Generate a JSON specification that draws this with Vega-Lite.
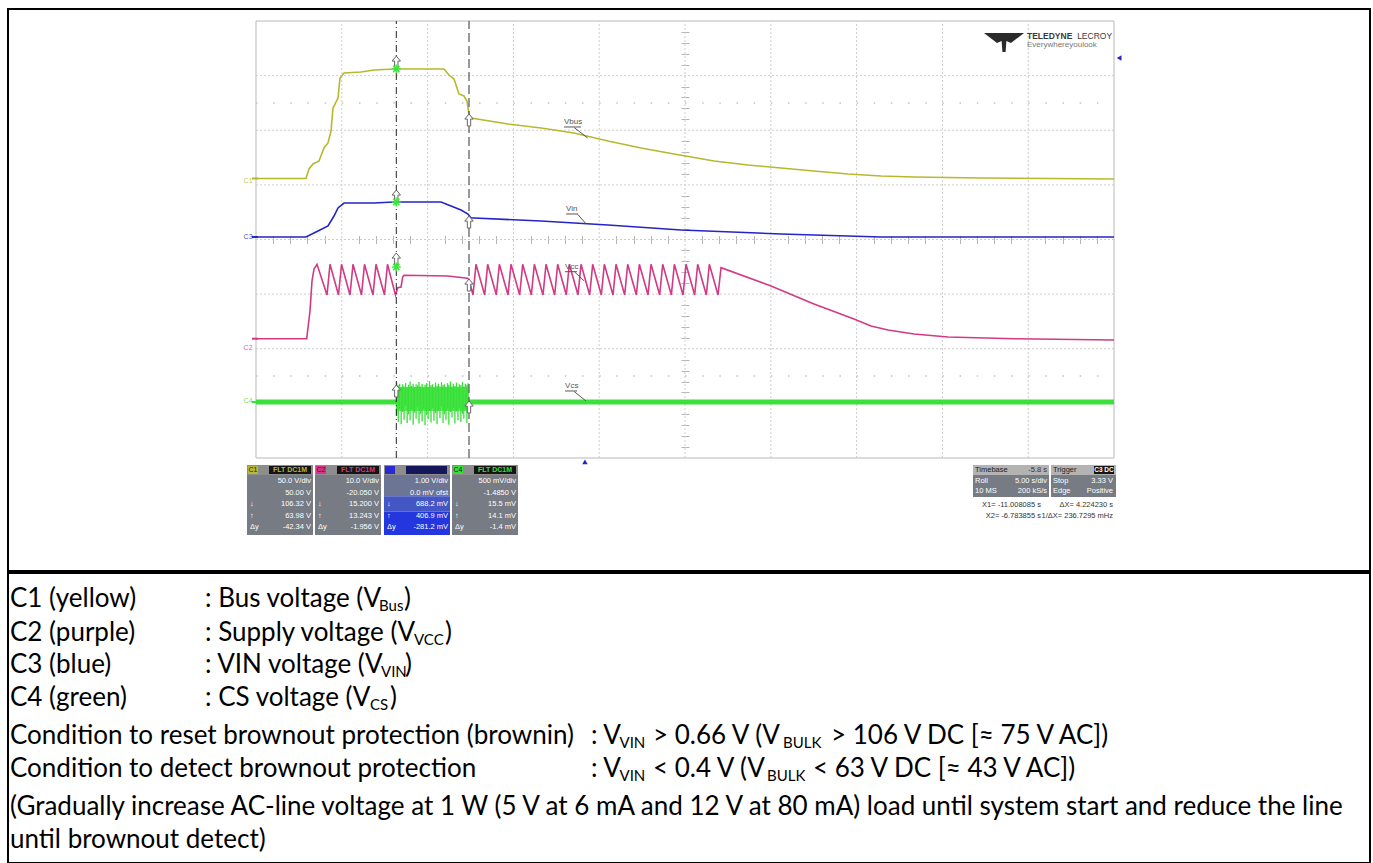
{
"$schema":"https://vega.github.io/schema/vega-lite/v6.json",
"background":"white",
"padding":{"left":7,"top":8,"right":4,"bottom":2},
"spacing":0,
"config":{"view":{"stroke":null},"font":"Liberation Sans","axis":{"labels":false,"domain":false,"grid":false,"title":null}},
"datasets":{
"frame":[{"t":0,"t2":50,"v":0,"v2":8}],
"grid":[{"t":5,"t2":5,"v":0,"v2":8},{"t":10,"t2":10,"v":0,"v2":8},{"t":15,"t2":15,"v":0,"v2":8},{"t":20,"t2":20,"v":0,"v2":8},{"t":25,"t2":25,"v":0,"v2":8},{"t":30,"t2":30,"v":0,"v2":8},{"t":35,"t2":35,"v":0,"v2":8},{"t":40,"t2":40,"v":0,"v2":8},{"t":45,"t2":45,"v":0,"v2":8},
{"t":0,"t2":50,"v":1,"v2":1},{"t":0,"t2":50,"v":2,"v2":2},{"t":0,"t2":50,"v":3,"v2":3},{"t":0,"t2":50,"v":4,"v2":4},{"t":0,"t2":50,"v":5,"v2":5},{"t":0,"t2":50,"v":6,"v2":6},{"t":0,"t2":50,"v":7,"v2":7}],
"dots":[{"t":0,"t2":50,"v":1.5,"v2":1.5},{"t":0,"t2":50,"v":6.5,"v2":6.5}],
"traces":[
{"ch":"C1","t":0,"v":5.117},{"ch":"C1","t":2.914,"v":5.117},{"ch":"C1","t":3.089,"v":5.291},{"ch":"C1","t":3.322,"v":5.382},{"ch":"C1","t":3.671,"v":5.437},{"ch":"C1","t":3.963,"v":5.675},{"ch":"C1","t":4.196,"v":5.767},{"ch":"C1","t":4.371,"v":5.986},{"ch":"C1","t":4.487,"v":6.407},{"ch":"C1","t":4.779,"v":6.59},{"ch":"C1","t":4.895,"v":6.957},{"ch":"C1","t":5.128,"v":7.048},{"ch":"C1","t":6.119,"v":7.066},{"ch":"C1","t":6.876,"v":7.103},{"ch":"C1","t":8.042,"v":7.121},{"ch":"C1","t":10.956,"v":7.121},{"ch":"C1","t":11.247,"v":7.011},{"ch":"C1","t":11.538,"v":6.938},{"ch":"C1","t":11.83,"v":6.664},{"ch":"C1","t":12.121,"v":6.627},{"ch":"C1","t":12.296,"v":6.535},{"ch":"C1","t":12.413,"v":6.297},{"ch":"C1","t":12.529,"v":6.224},{"ch":"C1","t":14.685,"v":6.114},{"ch":"C1","t":16.608,"v":6.041},{"ch":"C1","t":18.531,"v":5.95},{"ch":"C1","t":20.513,"v":5.803},{"ch":"C1","t":22.436,"v":5.675},{"ch":"C1","t":24.359,"v":5.565},{"ch":"C1","t":26.69,"v":5.437},{"ch":"C1","t":28.671,"v":5.364},{"ch":"C1","t":30.594,"v":5.309},{"ch":"C1","t":32.517,"v":5.254},{"ch":"C1","t":34.499,"v":5.199},{"ch":"C1","t":36.422,"v":5.163},{"ch":"C1","t":38.345,"v":5.144},{"ch":"C1","t":42.249,"v":5.126},{"ch":"C1","t":46.329,"v":5.117},{"ch":"C1","t":50,"v":5.108},
{"ch":"C3","t":0,"v":4.046},{"ch":"C3","t":2.914,"v":4.046},{"ch":"C3","t":3.613,"v":4.156},{"ch":"C3","t":4.196,"v":4.247},{"ch":"C3","t":4.545,"v":4.43},{"ch":"C3","t":4.779,"v":4.577},{"ch":"C3","t":5.128,"v":4.668},{"ch":"C3","t":6.876,"v":4.668},{"ch":"C3","t":8.042,"v":4.687},{"ch":"C3","t":10.781,"v":4.687},{"ch":"C3","t":11.364,"v":4.613},{"ch":"C3","t":11.946,"v":4.54},{"ch":"C3","t":12.354,"v":4.467},{"ch":"C3","t":12.529,"v":4.394},{"ch":"C3","t":12.704,"v":4.394},{"ch":"C3","t":16.608,"v":4.339},{"ch":"C3","t":20.513,"v":4.265},{"ch":"C3","t":24.767,"v":4.174},{"ch":"C3","t":30.594,"v":4.101},{"ch":"C3","t":36.422,"v":4.046},{"ch":"C3","t":50,"v":4.046},
{"ch":"C2","t":0,"v":2.184},{"ch":"C2","t":2.954,"v":2.184},{"ch":"C2","t":3.147,"v":2.691},{"ch":"C2","t":3.263,"v":3.24},{"ch":"C2","t":3.38,"v":3.46},{"ch":"C2","t":3.555,"v":3.546},{"ch":"C2","t":4.138,"v":2.984},{"ch":"C2","t":4.312,"v":3.546},{"ch":"C2","t":4.808,"v":2.984},{"ch":"C2","t":4.983,"v":3.546},{"ch":"C2","t":5.478,"v":2.984},{"ch":"C2","t":5.653,"v":3.546},{"ch":"C2","t":6.148,"v":2.984},{"ch":"C2","t":6.323,"v":3.546},{"ch":"C2","t":6.818,"v":2.984},{"ch":"C2","t":6.993,"v":3.546},{"ch":"C2","t":7.488,"v":2.984},{"ch":"C2","t":7.663,"v":3.546},{"ch":"C2","t":8.129,"v":2.984},{"ch":"C2","t":8.258,"v":3.118},{"ch":"C2","t":8.45,"v":3.13},{"ch":"C2","t":8.549,"v":3.314},{"ch":"C2","t":8.625,"v":3.345},{"ch":"C2","t":11.171,"v":3.332},{"ch":"C2","t":12.337,"v":3.29},{"ch":"C2","t":12.413,"v":3.27},{"ch":"C2","t":12.646,"v":2.984},
{"ch":"C2","t":12.821,"v":3.546},{"ch":"C2","t":13.326,"v":2.984},{"ch":"C2","t":13.501,"v":3.546},{"ch":"C2","t":14.006,"v":2.984},{"ch":"C2","t":14.181,"v":3.546},{"ch":"C2","t":14.686,"v":2.984},{"ch":"C2","t":14.861,"v":3.546},{"ch":"C2","t":15.366,"v":2.984},{"ch":"C2","t":15.541,"v":3.546},{"ch":"C2","t":16.046,"v":2.984},{"ch":"C2","t":16.221,"v":3.546},{"ch":"C2","t":16.726,"v":2.984},{"ch":"C2","t":16.901,"v":3.546},{"ch":"C2","t":17.406,"v":2.984},{"ch":"C2","t":17.58,"v":3.546},{"ch":"C2","t":18.085,"v":2.984},{"ch":"C2","t":18.26,"v":3.546},{"ch":"C2","t":18.765,"v":2.984},{"ch":"C2","t":18.94,"v":3.546},{"ch":"C2","t":19.445,"v":2.984},{"ch":"C2","t":19.62,"v":3.546},{"ch":"C2","t":20.125,"v":2.984},{"ch":"C2","t":20.3,"v":3.546},{"ch":"C2","t":20.805,"v":2.984},{"ch":"C2","t":20.98,"v":3.546},{"ch":"C2","t":21.485,"v":2.984},{"ch":"C2","t":21.66,"v":3.546},{"ch":"C2","t":22.165,"v":2.984},{"ch":"C2","t":22.34,"v":3.546},{"ch":"C2","t":22.845,"v":2.984},{"ch":"C2","t":23.02,"v":3.546},{"ch":"C2","t":23.525,"v":2.984},{"ch":"C2","t":23.7,"v":3.546},{"ch":"C2","t":24.205,"v":2.984},{"ch":"C2","t":24.38,"v":3.546},{"ch":"C2","t":24.885,"v":2.984},{"ch":"C2","t":25.059,"v":3.546},{"ch":"C2","t":25.564,"v":2.984},{"ch":"C2","t":25.739,"v":3.546},{"ch":"C2","t":26.244,"v":2.984},{"ch":"C2","t":26.419,"v":3.546},{"ch":"C2","t":26.924,"v":2.984},{"ch":"C2","t":27.099,"v":3.484},
{"ch":"C2","t":30.011,"v":3.149},{"ch":"C2","t":32.517,"v":2.819},{"ch":"C2","t":34.848,"v":2.545},{"ch":"C2","t":35.839,"v":2.416},{"ch":"C2","t":36.83,"v":2.343},{"ch":"C2","t":38.345,"v":2.27},{"ch":"C2","t":40.326,"v":2.215},{"ch":"C2","t":44.172,"v":2.184},{"ch":"C2","t":50,"v":2.16}],
"cs":[{"seg":"a","t":0,"v":1.025},{"seg":"a","t":8.18,"v":1.025},{"seg":"b","t":12.41,"v":1.025},{"seg":"b","t":50,"v":1.025}],
"burst":[{"t":8.19,"t2":12.37,"v":0.86,"v2":1.3}],
"spikes":[{"t":8.2,"v":0.78,"v2":1.38},{"t":8.29,"v":0.66,"v2":1.33},{"t":8.37,"v":0.9,"v2":1.36},{"t":8.46,"v":0.62,"v2":1.3},{"t":8.55,"v":0.84,"v2":1.35},{"t":8.63,"v":0.7,"v2":1.31},{"t":8.72,"v":0.95,"v2":1.37},{"t":8.81,"v":0.64,"v2":1.29},{"t":8.89,"v":0.8,"v2":1.34},{"t":8.98,"v":0.69,"v2":1.4},{"t":9.07,"v":0.88,"v2":1.32},{"t":9.16,"v":0.61,"v2":1.36},{"t":9.24,"v":0.83,"v2":1.3},{"t":9.33,"v":0.72,"v2":1.35},{"t":9.42,"v":0.93,"v2":1.33},{"t":9.5,"v":0.63,"v2":1.39},{"t":9.59,"v":0.81,"v2":1.31},{"t":9.68,"v":0.67,"v2":1.36},{"t":9.76,"v":0.9,"v2":1.28},{"t":9.85,"v":0.6,"v2":1.34},{"t":9.94,"v":0.79,"v2":1.37},{"t":10.03,"v":0.71,"v2":1.3},{"t":10.11,"v":0.86,"v2":1.41},{"t":10.2,"v":0.65,"v2":1.33},{"t":10.29,"v":0.92,"v2":1.35},{"t":10.37,"v":0.68,"v2":1.29},{"t":10.46,"v":0.82,"v2":1.38},{"t":10.55,"v":0.62,"v2":1.32},{"t":10.63,"v":0.87,"v2":1.36},{"t":10.72,"v":0.73,"v2":1.31},{"t":10.81,"v":0.94,"v2":1.39},{"t":10.9,"v":0.64,"v2":1.33},{"t":10.98,"v":0.8,"v2":1.35},{"t":11.07,"v":0.7,"v2":1.3},{"t":11.16,"v":0.89,"v2":1.37},{"t":11.24,"v":0.61,"v2":1.34},{"t":11.33,"v":0.84,"v2":1.4},{"t":11.42,"v":0.74,"v2":1.31},{"t":11.5,"v":0.91,"v2":1.36},{"t":11.59,"v":0.63,"v2":1.32},{"t":11.68,"v":0.85,"v2":1.38},{"t":11.77,"v":0.69,"v2":1.3},{"t":11.85,"v":0.92,"v2":1.35},{"t":11.94,"v":0.66,"v2":1.33},{"t":12.03,"v":0.81,"v2":1.39},{"t":12.11,"v":0.72,"v2":1.31},{"t":12.2,"v":0.88,"v2":1.36},{"t":12.29,"v":0.64,"v2":1.34},{"t":12.36,"v":0.86,"v2":1.37}],
"cur1":[{"t":8.176,"v":0,"v2":8}],
"cur2":[{"t":12.413,"v":0,"v2":8}],
"arrows":[{"t":8.176,"v":7.25},{"t":8.176,"v":4.797},{"t":8.176,"v":3.643},{"t":8.176,"v":1.227},{"t":12.413,"v":6.188},{"t":12.413,"v":4.32},{"t":12.413,"v":3.167},{"t":12.413,"v":0.934}],
"stars":[{"t":8.176,"v":7.121},{"t":8.176,"v":4.687},{"t":8.176,"v":3.497}],
"labels":[{"t":17.95,"v":6.08,"txt":"Vbus"},{"t":18.07,"v":4.49,"txt":"Vin"},{"t":18.01,"v":3.43,"txt":"Vcc"},{"t":18.01,"v":1.245,"txt":"Vcs"}],
"leaders":[{"t":17.95,"t2":18.94,"v":6.06,"v2":6.06},{"t":18.55,"t2":19.33,"v":6.047,"v2":5.858},{"t":18.07,"t2":18.77,"v":4.467,"v2":4.467},{"t":18.745,"t2":19.23,"v":4.461,"v2":4.289},{"t":18.01,"t2":18.71,"v":3.411,"v2":3.411},{"t":18.55,"t2":19.13,"v":3.411,"v2":3.24},{"t":18.01,"t2":18.71,"v":1.227,"v2":1.227},{"t":18.55,"t2":19.23,"v":1.214,"v2":1.043}],
"chmarks":[{"t":-0.2,"v":5.07,"txt":"C1","ch":"C1"},{"t":-0.2,"v":4.046,"txt":"C3","ch":"C3"},{"t":-0.2,"v":2.014,"txt":"C2","ch":"C2"},{"t":-0.2,"v":1.043,"txt":"C4","ch":"C4"}],
"chticks":[{"t":-0.233,"t2":0.117,"v":5.117,"v2":5.117,"ch":"C1"},{"t":-0.233,"t2":0.117,"v":4.046,"v2":4.046,"ch":"C3"},{"t":-0.233,"t2":0.117,"v":2.184,"v2":2.184,"ch":"C2"},{"t":-0.233,"t2":0.117,"v":1.025,"v2":1.025,"ch":"C4"}],
"triR":[{"t":50.3,"v":7.323}],
"triB":[{"t":19.17,"v":-0.073}],
"logo":[{"t":43.59,"v":7.616}],
"logoA":[{"t":44.93,"v":7.725,"txt":"TELEDYNE"}],
"logoB":[{"t":49.89,"v":7.725,"txt":"LECROY"}],
"logoC":[{"t":44.93,"v":7.56,"txt":"Everywhereyoulook"}],
"boxes":[
{"t":-0.524,"t2":3.322,"v":-0.128,"v2":-0.311,"part":"hdr"},{"t":3.438,"t2":7.284,"v":-0.128,"v2":-0.311,"part":"hdr"},{"t":7.459,"t2":11.305,"v":-0.128,"v2":-0.311,"part":"hdr"},{"t":11.422,"t2":15.268,"v":-0.128,"v2":-0.311,"part":"hdr"},
{"t":-0.524,"t2":3.322,"v":-0.311,"v2":-1.41,"part":"body"},{"t":3.438,"t2":7.284,"v":-0.311,"v2":-1.41,"part":"body"},{"t":11.422,"t2":15.268,"v":-0.311,"v2":-1.41,"part":"body"},
{"t":7.459,"t2":11.305,"v":-0.311,"v2":-0.7,"part":"c3a"},{"t":7.459,"t2":11.305,"v":-0.7,"v2":-0.98,"part":"c3b"},{"t":7.459,"t2":11.305,"v":-0.98,"v2":-1.41,"part":"c3c"},
{"t":-0.466,"t2":0.117,"v":-0.146,"v2":-0.293,"part":"tag1"},{"t":3.497,"t2":4.079,"v":-0.146,"v2":-0.293,"part":"tag2"},{"t":7.517,"t2":8.1,"v":-0.146,"v2":-0.293,"part":"tag3"},{"t":11.48,"t2":12.063,"v":-0.146,"v2":-0.293,"part":"tag4"},
{"t":0.758,"t2":3.205,"v":-0.146,"v2":-0.293,"part":"badge"},{"t":4.72,"t2":7.168,"v":-0.146,"v2":-0.293,"part":"badge"},{"t":8.741,"t2":11.131,"v":-0.146,"v2":-0.293,"part":"badge3"},{"t":12.704,"t2":15.152,"v":-0.146,"v2":-0.293,"part":"badge"},
{"t":41.783,"t2":46.212,"v":-0.128,"v2":-0.311,"part":"tbh"},{"t":46.329,"t2":50.117,"v":-0.128,"v2":-0.311,"part":"tbh"},{"t":41.783,"t2":46.212,"v":-0.311,"v2":-0.714,"part":"body"},{"t":46.329,"t2":50.117,"v":-0.311,"v2":-0.714,"part":"body"},{"t":48.834,"t2":50.0,"v":-0.146,"v2":-0.293,"part":"badge"}],
"bvR":[
{"t":3.205,"v":-0.421,"txt":"50.0 V/div"},{"t":3.205,"v":-0.632,"txt":"50.00 V"},{"t":3.205,"v":-0.842,"txt":"106.32 V"},{"t":3.205,"v":-1.053,"txt":"63.98 V"},{"t":3.205,"v":-1.263,"txt":"-42.34 V"},
{"t":7.168,"v":-0.421,"txt":"10.0 V/div"},{"t":7.168,"v":-0.632,"txt":"-20.050 V"},{"t":7.168,"v":-0.842,"txt":"15.200 V"},{"t":7.168,"v":-1.053,"txt":"13.243 V"},{"t":7.168,"v":-1.263,"txt":"-1.956 V"},
{"t":11.189,"v":-0.421,"txt":"1.00 V/div"},{"t":11.189,"v":-0.632,"txt":"0.0 mV ofst"},{"t":11.189,"v":-0.842,"txt":"688.2 mV"},{"t":11.189,"v":-1.053,"txt":"406.9 mV"},{"t":11.189,"v":-1.263,"txt":"-281.2 mV"},
{"t":15.152,"v":-0.421,"txt":"500 mV/div"},{"t":15.152,"v":-0.632,"txt":"-1.4850 V"},{"t":15.152,"v":-0.842,"txt":"15.5 mV"},{"t":15.152,"v":-1.053,"txt":"14.1 mV"},{"t":15.152,"v":-1.263,"txt":"-1.4 mV"},
{"t":46.095,"v":-0.412,"txt":"5.00 s/div"},{"t":46.095,"v":-0.613,"txt":"200 kS/s"},{"t":49.942,"v":-0.412,"txt":"3.33 V"},{"t":49.942,"v":-0.613,"txt":"Positive"}],
"bvL":[
{"t":-0.35,"v":-0.842,"txt":"↓"},{"t":-0.35,"v":-1.053,"txt":"↑"},{"t":-0.35,"v":-1.263,"txt":"Δy"},
{"t":3.613,"v":-0.842,"txt":"↓"},{"t":3.613,"v":-1.053,"txt":"↑"},{"t":3.613,"v":-1.263,"txt":"Δy"},
{"t":7.634,"v":-0.842,"txt":"↓"},{"t":7.634,"v":-1.053,"txt":"↑"},{"t":7.634,"v":-1.263,"txt":"Δy"},
{"t":11.597,"v":-0.842,"txt":"↓"},{"t":11.597,"v":-1.053,"txt":"↑"},{"t":11.597,"v":-1.263,"txt":"Δy"},
{"t":41.9,"v":-0.412,"txt":"Roll"},{"t":41.9,"v":-0.613,"txt":"10 MS"},{"t":46.445,"v":-0.412,"txt":"Stop"},{"t":46.445,"v":-0.613,"txt":"Edge"}],
"hdL":[{"t":41.9,"v":-0.22,"txt":"Timebase"},{"t":46.445,"v":-0.22,"txt":"Trigger"}],
"darkR":[{"t":46.095,"v":-0.22,"txt":"-5.8 s"},{"t":45.745,"v":-0.86,"txt":"X1= -11.008085 s"},{"t":45.745,"v":-1.062,"txt":"X2= -6.783855 s"},{"t":49.942,"v":-0.86,"txt":"ΔX=     4.224230 s"},{"t":49.942,"v":-1.062,"txt":"1/ΔX= 236.7295 mHz"}],
"tags":[{"t":-0.175,"v":-0.22,"txt":"C1"},{"t":3.788,"v":-0.22,"txt":"C2"},{"t":7.809,"v":-0.22,"txt":""},{"t":11.772,"v":-0.22,"txt":"C4"}],
"badges":[{"t":1.982,"v":-0.22,"txt":"FLT DC1M","ch":"C1"},{"t":5.944,"v":-0.22,"txt":"FLT DC1M","ch":"C2"},{"t":13.928,"v":-0.22,"txt":"FLT DC1M","ch":"C4"}],
"trigBadge":[{"t":49.417,"v":-0.22,"txt":"C3 DC"}],
"tsep":[{"ln":143},{"ln":215}],
"tmain":[
{"pos":2,"ln":26,"txt":"C1 (yellow)"},{"pos":197,"ln":26,"txt":": Bus voltage (V"},{"pos":396,"ln":26,"txt":")"},
{"pos":2,"ln":60,"txt":"C2 (purple)"},{"pos":197,"ln":60,"txt":": Supply voltage (V"},{"pos":437,"ln":60,"txt":")"},
{"pos":2,"ln":92,"txt":"C3 (blue)"},{"pos":197,"ln":92,"txt":": VIN voltage (V"},{"pos":397,"ln":92,"txt":")"},
{"pos":2,"ln":125,"txt":"C4 (green)"},{"pos":197,"ln":125,"txt":": CS voltage (V"},{"pos":382,"ln":125,"txt":")"},
{"pos":2,"ln":163,"txt":"Condition to reset brownout protection (brownin)"},{"pos":583,"ln":163,"txt":": V"},{"pos":645,"ln":163,"txt":"> 0.66 V (V"},{"pos":823,"ln":163,"txt":"> 106 V DC [≈ 75 V AC])"},
{"pos":2,"ln":196,"txt":"Condition to detect brownout protection"},{"pos":583,"ln":196,"txt":": V"},{"pos":645,"ln":196,"txt":"< 0.4 V (V"},{"pos":805,"ln":196,"txt":"< 63 V DC [≈ 43 V AC])"},
{"pos":2,"ln":234,"txt":"(Gradually increase AC-line voltage at 1 W (5 V at 6 mA and 12 V at 80 mA) load until system start and reduce the line"},
{"pos":2,"ln":267,"txt":"until brownout detect)"}],
"tsub":[{"pos":371,"ln":26,"txt":"Bus"},{"pos":406,"ln":60,"txt":"VCC"},{"pos":373,"ln":92,"txt":"VIN"},{"pos":362,"ln":125,"txt":"CS"},{"pos":611.5,"ln":163,"txt":"VIN"},{"pos":775,"ln":163,"txt":"BULK"},{"pos":611.5,"ln":196,"txt":"VIN"},{"pos":759,"ln":196,"txt":"BULK"}]
},
"vconcat":[
{
"width":1362,"height":562,
"view":{"stroke":"#000000","strokeWidth":2,"fill":"white"},
"resolve":{"axis":{"x":"independent","y":"independent"}},
"encoding":{
"x":{"field":"t","type":"quantitative","scale":{"domain":[-14.452,64.9185],"nice":false,"zero":false},"axis":null},
"y":{"field":"v","type":"quantitative","scale":{"domain":[-2.0687,8.2197],"nice":false,"zero":false},"axis":null}
},
"layer":[
{"data":{"name":"frame"},"mark":{"type":"rect","filled":false,"stroke":"#b8b8b8","strokeWidth":1},"encoding":{"x2":{"field":"t2"},"y2":{"field":"v2"}}},
{"data":{"name":"grid"},"mark":{"type":"rule","stroke":"#cccccc","strokeWidth":1,"strokeDash":[2,2]},"encoding":{"x2":{"field":"t2"},"y2":{"field":"v2"}}},
{"data":{"name":"dots"},"mark":{"type":"rule","stroke":"#c2c2c2","strokeWidth":1.5,"strokeDash":[1.5,15.66]},"encoding":{"x2":{"field":"t2"},"y2":{"field":"v2"}}},
{"data":{"values":[{"t":25,"v":4}]},"mark":{"type":"point","opacity":0},
 "encoding":{
 "x":{"field":"t","type":"quantitative","scale":{"domain":[-14.452,64.9185],"nice":false,"zero":false},"axis":{"orient":"bottom","offset":-331.5,"values":[1,2,3,4,6,7,8,9,11,12,13,14,16,17,18,19,21,22,23,24,26,27,28,29,31,32,33,34,36,37,38,39,41,42,43,44,46,47,48,49],"ticks":true,"tickSize":4,"tickColor":"#b5b5b5","labels":false,"domain":false,"grid":false,"title":null}},
 "y":{"field":"v","type":"quantitative","scale":{"domain":[-2.0687,8.2197],"nice":false,"zero":false},"axis":{"orient":"left","offset":-677,"values":[0.2,0.4,0.6,0.8,1.2,1.4,1.6,1.8,2.2,2.4,2.6,2.8,3.2,3.4,3.6,3.8,4.2,4.4,4.6,4.8,5.2,5.4,5.6,5.8,6.2,6.4,6.6,6.8,7.2,7.4,7.6,7.8],"ticks":true,"tickSize":4,"tickColor":"#b5b5b5","labels":false,"domain":false,"grid":false,"title":null}}}},
{"data":{"values":[{"t":25,"v":4}]},"mark":{"type":"point","opacity":0},
 "encoding":{
 "x":{"field":"t","type":"quantitative","scale":{"domain":[-14.452,64.9185],"nice":false,"zero":false},"axis":{"orient":"top","offset":-230.5,"values":[1,2,3,4,6,7,8,9,11,12,13,14,16,17,18,19,21,22,23,24,26,27,28,29,31,32,33,34,36,37,38,39,41,42,43,44,46,47,48,49],"ticks":true,"tickSize":4,"tickColor":"#b5b5b5","labels":false,"domain":false,"grid":false,"title":null}},
 "y":{"field":"v","type":"quantitative","scale":{"domain":[-2.0687,8.2197],"nice":false,"zero":false},"axis":{"orient":"right","offset":-685,"values":[0.2,0.4,0.6,0.8,1.2,1.4,1.6,1.8,2.2,2.4,2.6,2.8,3.2,3.4,3.6,3.8,4.2,4.4,4.6,4.8,5.2,5.4,5.6,5.8,6.2,6.4,6.6,6.8,7.2,7.4,7.6,7.8],"ticks":true,"tickSize":4,"tickColor":"#b5b5b5","labels":false,"domain":false,"grid":false,"title":null}}}},
{"data":{"name":"cs"},"mark":{"type":"line","stroke":"#3be03b","strokeWidth":5},"encoding":{"detail":{"field":"seg"}}},
{"data":{"name":"burst"},"mark":{"type":"rect","fill":"#3be03b","opacity":0.8},"encoding":{"x2":{"field":"t2"},"y2":{"field":"v2"}}},
{"data":{"name":"spikes"},"mark":{"type":"rule","stroke":"#36e036","strokeWidth":1.3},"encoding":{"y2":{"field":"v2"}}},
{"data":{"name":"traces"},"mark":{"type":"line","strokeWidth":1.6},"encoding":{"color":{"field":"ch","type":"nominal","scale":{"domain":["C1","C2","C3","C4"],"range":["#b8b82e","#d23a84","#2424c8","#38e038"]},"legend":null}}},
{"data":{"name":"cur1"},"mark":{"type":"rule","stroke":"#222222","strokeWidth":1,"strokeDash":[7,3,1,3]},"encoding":{"y2":{"field":"v2"}}},
{"data":{"name":"cur2"},"mark":{"type":"rule","stroke":"#555555","strokeWidth":1.2,"strokeDash":[9,4]},"encoding":{"y2":{"field":"v2"}}},
{"data":{"name":"arrows"},"mark":{"type":"point","shape":"M0,-1L0.7,-0.15L0.28,-0.15L0.28,1L-0.28,1L-0.28,-0.15L-0.7,-0.15Z","size":144,"filled":true,"fill":"white","stroke":"#666666","strokeWidth":1,"opacity":1}},
{"data":{"name":"stars"},"mark":{"type":"point","shape":"M-1,0L1,0M0,-1L0,1M-0.7,-0.7L0.7,0.7M-0.7,0.7L0.7,-0.7","size":80,"filled":false,"stroke":"#3ce83c","strokeWidth":1.5,"opacity":1}},
{"data":{"name":"leaders"},"mark":{"type":"rule","stroke":"#555555","strokeWidth":1},"encoding":{"x2":{"field":"t2"},"y2":{"field":"v2"}}},
{"data":{"name":"labels"},"mark":{"type":"text","align":"left","baseline":"bottom","fontSize":8,"color":"#555555"},"encoding":{"text":{"field":"txt"}}},
{"data":{"name":"chticks"},"mark":{"type":"rule","strokeWidth":2},"encoding":{"x2":{"field":"t2"},"y2":{"field":"v2"},"color":{"field":"ch","type":"nominal","scale":{"domain":["C1","C2","C3","C4"],"range":["#b8b82e","#d23a84","#2424c8","#38e038"]},"legend":null}}},
{"data":{"name":"chmarks"},"mark":{"type":"text","align":"right","baseline":"middle","fontSize":7,"opacity":0.8},"encoding":{"text":{"field":"txt"},"color":{"field":"ch","type":"nominal","scale":{"domain":["C1","C2","C3","C4"],"range":["#b8b82e","#d23a84","#2424c8","#38e038"]},"legend":null}}},
{"data":{"name":"triR"},"mark":{"type":"point","shape":"triangle-left","size":30,"filled":true,"color":"#2424c8","opacity":1}},
{"data":{"name":"triB"},"mark":{"type":"point","shape":"triangle-up","size":30,"filled":true,"color":"#2424c8","opacity":1}},
{"data":{"name":"logo"},"mark":{"type":"point","shape":"M-1,-0.45L1,-0.45L0.35,0.05L0.12,-0.05L0.08,0.5L-0.08,0.5L-0.12,-0.05L-0.35,0.05Z","size":1600,"filled":true,"color":"#2b2b2b","opacity":1}},
{"data":{"name":"logoA"},"mark":{"type":"text","align":"left","baseline":"middle","fontSize":8.5,"fontWeight":"bold","color":"#3a3a3a"},"encoding":{"text":{"field":"txt"}}},
{"data":{"name":"logoB"},"mark":{"type":"text","align":"right","baseline":"middle","fontSize":8.5,"color":"#3a3a3a"},"encoding":{"text":{"field":"txt"}}},
{"data":{"name":"logoC"},"mark":{"type":"text","align":"left","baseline":"middle","fontSize":8,"color":"#777777"},"encoding":{"text":{"field":"txt"}}},
{"data":{"name":"boxes"},"mark":{"type":"rect"},"encoding":{"x2":{"field":"t2"},"y2":{"field":"v2"},"fill":{"field":"part","type":"nominal","scale":{"domain":["hdr","body","c3a","c3b","c3c","tag1","tag2","tag3","tag4","badge","badge3","tbh"],"range":["#8d8d8d","#767b84","#6c7594","#4455c4","#2436de","#b9b934","#d9348a","#2a2ad0","#35e035","#151515","#14185a","#b3b3b3"]},"legend":null}}},
{"data":{"name":"bvR"},"mark":{"type":"text","align":"right","baseline":"middle","fontSize":7.5,"color":"white"},"encoding":{"text":{"field":"txt"}}},
{"data":{"name":"bvL"},"mark":{"type":"text","align":"left","baseline":"middle","fontSize":7.5,"color":"white"},"encoding":{"text":{"field":"txt"}}},
{"data":{"name":"hdL"},"mark":{"type":"text","align":"left","baseline":"middle","fontSize":7.5,"color":"#222222"},"encoding":{"text":{"field":"txt"}}},
{"data":{"name":"darkR"},"mark":{"type":"text","align":"right","baseline":"middle","fontSize":7.5,"color":"#333333"},"encoding":{"text":{"field":"txt"}}},
{"data":{"name":"tags"},"mark":{"type":"text","align":"center","baseline":"middle","fontSize":7,"color":"#222222"},"encoding":{"text":{"field":"txt"}}},
{"data":{"name":"badges"},"mark":{"type":"text","align":"center","baseline":"middle","fontSize":7,"fontWeight":"bold"},"encoding":{"text":{"field":"txt"},"color":{"field":"ch","type":"nominal","scale":{"domain":["C1","C2","C3","C4"],"range":["#b8b82e","#d23a84","#2424c8","#38e038"]},"legend":null}}},
{"data":{"name":"trigBadge"},"mark":{"type":"text","align":"center","baseline":"middle","fontSize":6.5,"fontWeight":"bold","color":"white"},"encoding":{"text":{"field":"txt"}}}
]
},
{
"width":1362,"height":290,
"view":{"stroke":"#000000","strokeWidth":2,"fill":"white"},
"encoding":{
"x":{"field":"pos","type":"quantitative","scale":{"domain":[0,1362],"nice":false,"zero":false},"axis":null},
"y":{"field":"ln","type":"quantitative","scale":{"domain":[0,290],"nice":false,"zero":false,"reverse":true},"axis":null}
},
"layer":[
{"data":{"name":"tsep"},"mark":{"type":"rule","stroke":"#000000","strokeWidth":2},"encoding":{"x":{"datum":0,"type":"quantitative","scale":{"domain":[0,1362],"nice":false,"zero":false},"axis":null},"x2":{"datum":1362}}},
{"data":{"name":"tmain"},"mark":{"type":"text","align":"left","baseline":"middle","font":"Lato","fontSize":26,"color":"#000000"},"encoding":{"text":{"field":"txt"}}},
{"data":{"name":"tsub"},"mark":{"type":"text","align":"left","baseline":"middle","font":"Lato","fontSize":15,"dy":7,"color":"#000000"},"encoding":{"text":{"field":"txt"}}}
]
}
]
}
